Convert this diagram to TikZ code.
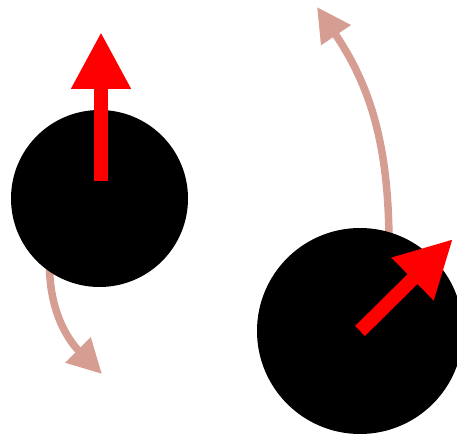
\documentclass[tikz,border=0pt]{standalone}
\usepackage{tikz}
\usetikzlibrary{arrows.meta,positioning}
\definecolor{spinred}{RGB}{255,0,0}
\definecolor{driftpink}{RGB}{214,158,146}

\begin{document}
\begin{tikzpicture}[x=1pt,y=1pt,
  ball/.style={circle,fill=black,inner sep=0pt},
  spin/.style={-{Triangle[length=57pt,width=56pt]},line width=14pt,spinred},
  drift/.style={-{Triangle[length=34pt,width=34pt]},line width=7.5pt,driftpink}]
  \useasboundingbox (0,0) rectangle (457,435);
  % curved drift arrows go under the balls
  \coordinate (d1s) at (49.5,170);
  \coordinate (d1e) at (102,61);
  \coordinate (d2s) at (389,190);
  \coordinate (d2e) at (317,428);
  \draw[drift] (d1s) to[out=-90,in=135] (d1e);
  \draw[drift] (d2s) to[out=90,in=-56] (d2e);
  \node[ball,minimum size=177pt] (ball1) at (99.5,236.5) {};
  \node[ball,minimum size=206pt] (ball2) at (360,104) {};
  % spins
  \coordinate (s1s) at (101,254);
  \coordinate (s1e) at (101,403);
  \coordinate (s2e) at (453,196);
  \draw[spin] (s1s) -- (s1e);
  \draw[spin] (ball2.center) -- (s2e);
\end{tikzpicture}
\end{document}
